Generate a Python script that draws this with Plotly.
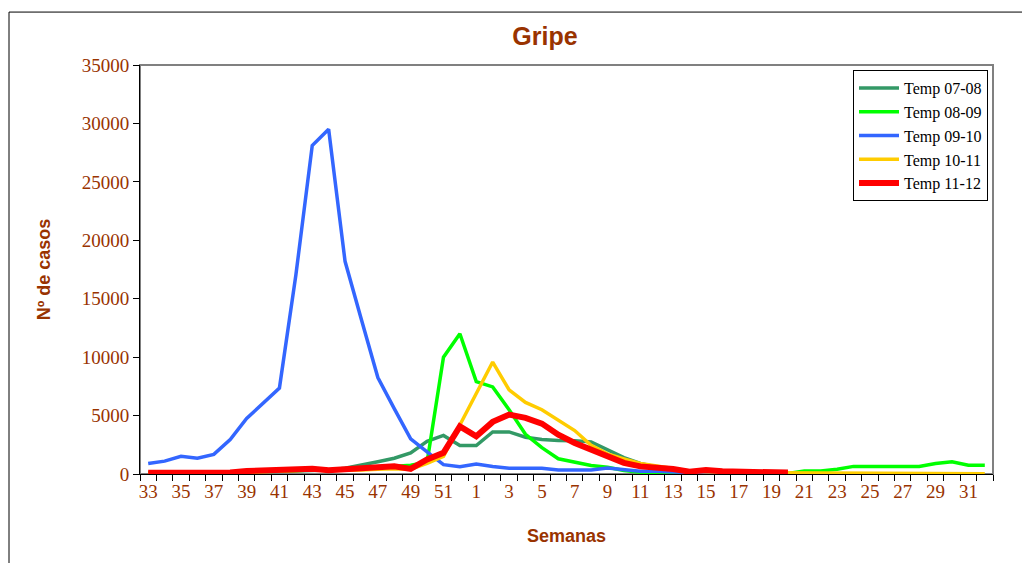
import plotly.graph_objects as go

weeks = list(range(33, 53)) + list(range(1, 33))

temp_07_08 = [100, 100, 100, 100, 100, 150, 150, 200, 200, 250,
              300, 350, 500, 750, 1050, 1350, 1800, 2800, 3300, 2430,
              2430, 3600, 3600, 3150, 2950, 2870, 2850, 2750, 2100, 1400,
              900, 600, 400, 250, 300, 200, 150, 150, 120, 100,
              None, None, None, None, None, None, None, None, None, None, None, None]

temp_08_09 = [100, 100, 100, 100, 100, 150, 200, 200, 250, 300,
              350, 300, 350, 450, 550, 650, 750, 1000, 10000, 12000,
              7900, 7450, 5500, 3400, 2250, 1300, 1000, 730, 580, 300,
              150, 100, 80, 60, 50, 50, 50, 50, 50, 50,
              250, 250, 400, 650, 650, 650, 650, 650, 900, 1050, 750, 750]

temp_09_10 = [900, 1100, 1520, 1350, 1680, 2950, 4750, 6100, 7350, 17000,
              28100, 29500, 18200, 13200, 8250, 5600, 3000, 1900, 800, 620,
              850, 650, 490, 490, 490, 340, 340, 340, 520, 380,
              240, 240, 150, 120, 100, 100, 100, 100, 100, 100,
              None, None, None, None, None, None, None, None, None, None, None, None]

temp_10_11 = [50, 50, 50, 50, 50, 100, 150, 200, 250, 300,
              350, 300, 300, 350, 400, 450, 400, 900, 1500, 4200,
              6900, 9580, 7200, 6130, 5500, 4600, 3720, 2450, 1720, 1300,
              900, 680, 500, 250, 200, 150, 100, 100, 100, 100,
              30, 30, 30, 30, 30, 30, 30, 30, 30, 30, 30, 30]

temp_11_12 = [100, 100, 100, 100, 100, 120, 250, 280, 300, 350,
              450, 320, 380, 450, 530, 670, 440, 1240, 1810, 4080,
              3230, 4460, 5080, 4800, 4310, 3370, 2660, 2090, 1500, 950,
              650, 560, 420, 200, 350, 230, 200, 200, 180, 120,
              None, None, None, None, None, None, None, None, None, None, None, None]

series = [
    ("Temp 07-08", temp_07_08, "#339966", 3.5),
    ("Temp 08-09", temp_08_09, "#00FF00", 3.5),
    ("Temp 09-10", temp_09_10, "#3366FF", 3.5),
    ("Temp 10-11", temp_10_11, "#FFCC00", 3.5),
    ("Temp 11-12", temp_11_12, "#FF0000", 6),
]

BROWN = "#993300"
xs = list(range(len(weeks)))

fig = go.Figure()
for name, vals, color, w in series:
    fig.add_trace(go.Scatter(x=xs, y=vals, mode="lines", name=name,
                             line=dict(color=color, width=w), connectgaps=False))

# page body has an 8px default margin: the figure starts at (8, 8) on the page
OFF = 8
W, H = 1030 - OFF, 563 - OFF
L, R, T, B = 140 - OFF, 37, 65 - OFF, 88.5
pw, ph = W - L - R, H - T - B

fig.update_layout(
    width=W, height=H,
    margin=dict(l=L, r=R, t=T, b=B, autoexpand=False),
    paper_bgcolor="white", plot_bgcolor="white",
    showlegend=True,
    title=dict(text="<b>Gripe</b>", x=(545 - OFF) / W, xanchor="center",
               y=1 - (36 - OFF) / H, yanchor="middle",
               font=dict(family="Liberation Sans, Arial", size=25, color=BROWN)),
    legend=dict(x=1 - 5 / pw, xanchor="right", y=1 - 5 / ph, yanchor="top",
                bordercolor="black", borderwidth=1, bgcolor="white",
                font=dict(family="Liberation Serif, Times New Roman", size=16, color="black"),
                tracegroupgap=0, itemwidth=40),
    xaxis=dict(
        range=[-0.5, len(weeks) - 0.5],
        tickmode="array",
        tickvals=xs[::2],
        ticktext=[str(w) for w in weeks[::2]],
        ticks="", showgrid=False, zeroline=False,
        showline=True, linecolor="black", linewidth=1,
        tickfont=dict(family="Liberation Serif, Times New Roman", size=19, color=BROWN),
        minor=dict(tickmode="array", tickvals=[i - 0.5 for i in range(len(weeks) + 1)],
                   ticks="outside", ticklen=6, tickcolor="black", showgrid=False),
        title=dict(text="<b>Semanas</b>", standoff=28,
                   font=dict(family="Liberation Sans, Arial", size=18, color=BROWN)),
    ),
    yaxis=dict(
        range=[0, 35000], dtick=5000, tick0=0, tickformat="d",
        ticks="outside", ticklen=6, tickcolor="black",
        showgrid=False, zeroline=False,
        showline=True, linecolor="black", linewidth=1,
        tickfont=dict(family="Liberation Serif, Times New Roman", size=19, color=BROWN),
        title=dict(text="<b>Nº de casos</b>", standoff=26,
                   font=dict(family="Liberation Sans, Arial", size=18, color=BROWN)),
    ),
    shapes=[
        dict(type="rect", xref="paper", yref="paper", x0=0, x1=1, y0=0, y1=1,
             line=dict(color="#808080", width=2), layer="below"),
        dict(type="rect", xref="paper", yref="paper",
             x0=(9 - 140) / pw, x1=(1045 - 140) / pw,
             y0=(474.5 - 580) / ph, y1=(474.5 - 12) / ph,
             line=dict(color="black", width=1), layer="below"),
    ],
)

fig.write_html("out.html")
